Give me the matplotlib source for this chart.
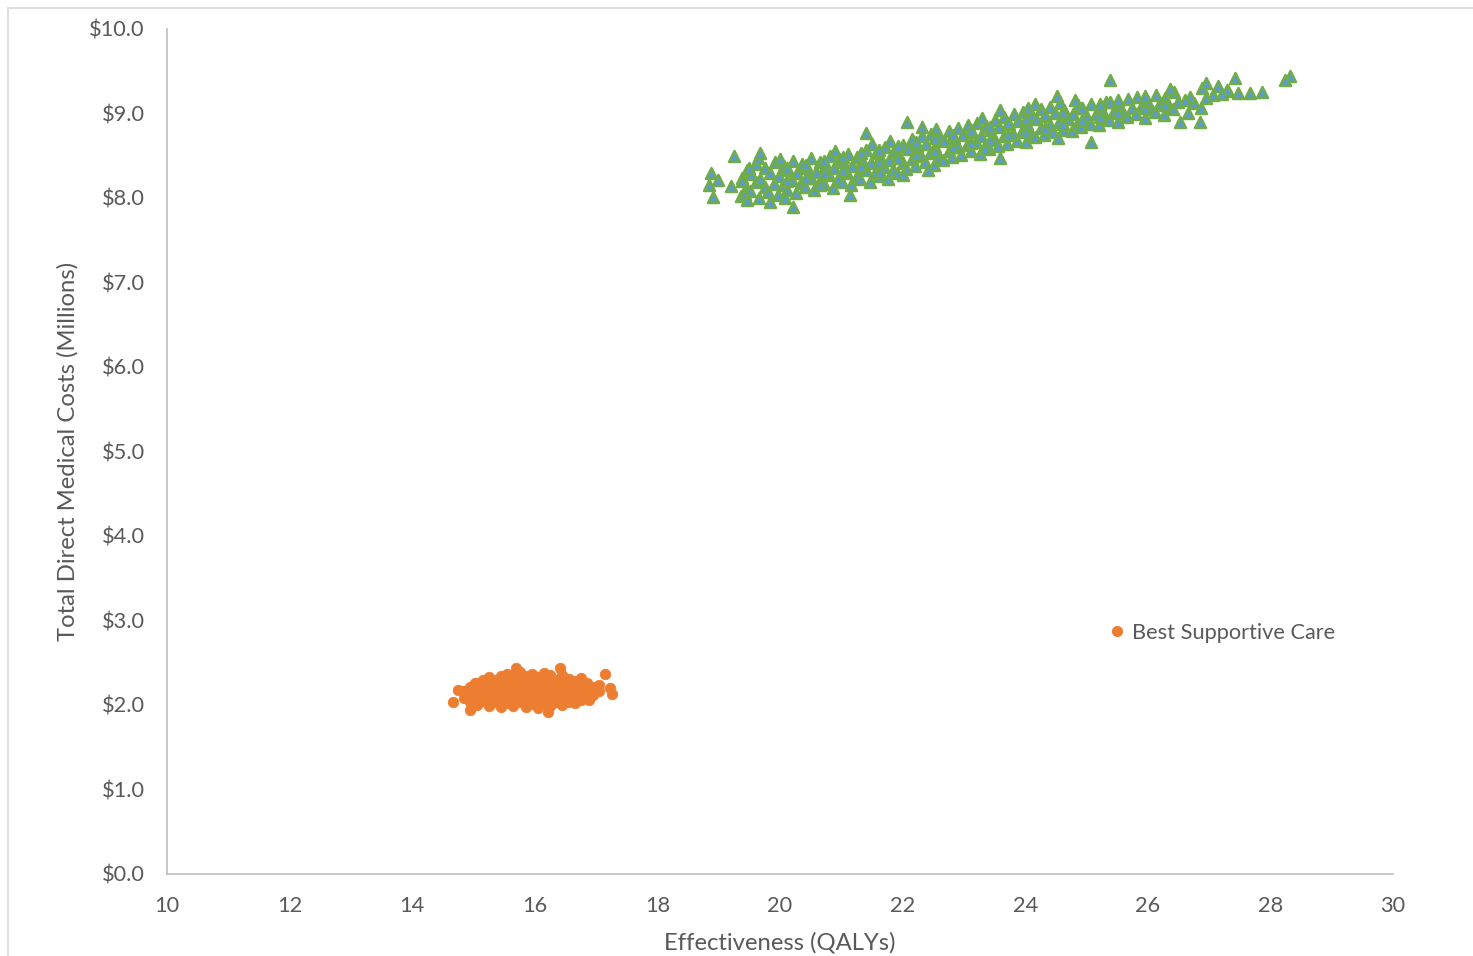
import matplotlib.pyplot as plt
from matplotlib.lines import Line2D
from matplotlib.ticker import FuncFormatter

# Best Supportive Care (orange circles)
bsc_qaly = [
    14.85, 14.85,
    14.95, 14.95, 14.95,
    15.05, 15.05, 15.05, 15.05,
    15.15, 15.15, 15.15, 15.15,
    15.25, 15.25, 15.25, 15.25, 15.25,
    15.35, 15.35, 15.35, 15.35,
    15.45, 15.45, 15.45, 15.45, 15.45,
    15.55, 15.55, 15.55, 15.55, 15.55,
    15.65, 15.65, 15.65, 15.65, 15.65,
    15.75, 15.75, 15.75, 15.75, 15.75,
    15.85, 15.85, 15.85, 15.85, 15.85,
    15.95, 15.95, 15.95, 15.95, 15.95,
    16.05, 16.05, 16.05, 16.05, 16.05,
    16.15, 16.15, 16.15, 16.15, 16.15,
    16.25, 16.25, 16.25, 16.25, 16.25,
    16.35, 16.35, 16.35, 16.35,
    16.45, 16.45, 16.45, 16.45, 16.45,
    16.55, 16.55, 16.55, 16.55,
    16.65, 16.65, 16.65, 16.65,
    16.75, 16.75, 16.75, 16.75,
    16.85, 16.85, 16.85,
    16.95, 16.95,
    17.05, 17.05,
    14.67, 14.75, 14.94, 15.69, 16.41, 17.15, 17.26, 17.23, 16.22, 16.88, 15.02,
]
bsc_cost = [
    2.08, 2.16,
    2.03, 2.12, 2.21,
    2.00, 2.09, 2.18, 2.26,
    2.05, 2.14, 2.23, 2.29,
    1.99, 2.08, 2.17, 2.26, 2.33,
    2.03, 2.12, 2.21, 2.30,
    1.98, 2.07, 2.16, 2.25, 2.34,
    2.02, 2.11, 2.20, 2.29, 2.37,
    1.99, 2.08, 2.17, 2.26, 2.35,
    2.03, 2.12, 2.21, 2.30, 2.39,
    1.98, 2.07, 2.16, 2.25, 2.34,
    2.01, 2.10, 2.19, 2.28, 2.37,
    1.97, 2.06, 2.15, 2.24, 2.33,
    2.02, 2.11, 2.20, 2.29, 2.38,
    1.99, 2.08, 2.17, 2.26, 2.35,
    2.03, 2.12, 2.21, 2.30,
    2.00, 2.09, 2.18, 2.27, 2.36,
    2.04, 2.13, 2.22, 2.31,
    2.02, 2.10, 2.19, 2.28,
    2.06, 2.15, 2.24, 2.32,
    2.09, 2.18, 2.26,
    2.12, 2.21,
    2.16, 2.24,
    2.04, 2.18, 1.94, 2.44, 2.44, 2.37, 2.13, 2.20, 1.92, 2.06, 2.26,
]

# second strategy (green triangles)
tx_qaly = [
    19.36, 19.45, 19.38, 19.46,
    19.51, 19.60, 19.53, 19.61,
    19.66, 19.75, 19.68, 19.76,
    19.81, 19.90, 19.83, 19.91,
    19.96, 20.05, 19.98, 20.06, 20.00,
    20.11, 20.20, 20.13, 20.21,
    20.26, 20.35, 20.28, 20.36,
    20.41, 20.50, 20.43, 20.51,
    20.56, 20.65, 20.58, 20.66,
    20.71, 20.80, 20.73, 20.81,
    20.86, 20.95, 20.88, 20.96, 20.90,
    21.01, 21.10, 21.03, 21.11,
    21.16, 21.25, 21.18, 21.26,
    21.31, 21.40, 21.33, 21.41,
    21.46, 21.55, 21.48, 21.56, 21.50,
    21.61, 21.70, 21.63, 21.71,
    21.76, 21.85, 21.78, 21.86, 21.80,
    21.91, 22.00, 21.93, 22.01,
    22.06, 22.15, 22.08, 22.16,
    22.21, 22.30, 22.23, 22.31,
    22.36, 22.45, 22.38, 22.46,
    22.51, 22.60, 22.53, 22.61, 22.55,
    22.66, 22.75, 22.68, 22.76,
    22.81, 22.90, 22.83, 22.91,
    22.96, 23.05, 22.98, 23.06,
    23.11, 23.20, 23.13, 23.21,
    23.26, 23.35, 23.28, 23.36, 23.30,
    23.41, 23.50, 23.43, 23.51,
    23.56, 23.65, 23.58, 23.66,
    23.71, 23.80, 23.73, 23.81,
    23.86, 23.95, 23.88, 23.96,
    24.01, 24.10, 24.03, 24.11, 24.05,
    24.16, 24.25, 24.18, 24.26,
    24.31, 24.40, 24.33, 24.41,
    24.46, 24.55, 24.48, 24.56,
    24.61, 24.70, 24.63,
    24.76, 24.85, 24.78, 24.86,
    24.91, 25.00, 24.93,
    25.06, 25.15, 25.08,
    25.21, 25.30, 25.23, 25.31,
    25.36, 25.45, 25.38,
    25.51, 25.60, 25.53,
    25.66, 25.75, 25.68,
    25.81, 25.90, 25.83,
    25.96, 26.05, 25.98,
    26.11, 26.20, 26.13,
    26.26, 26.35, 26.28,
    26.41, 26.50, 26.43,
    26.66, 26.75, 26.68,
    26.86, 26.95, 26.88,
    27.06, 27.15,
    27.31,
    20.12, 20.12, 20.42, 20.42, 20.72, 20.72, 21.02, 21.02, 21.32, 21.32,
    21.62, 21.62, 21.92, 21.92, 22.22, 22.22, 22.52, 22.52, 22.82, 22.82,
    23.12, 23.12, 23.42, 23.42, 23.72, 23.72, 24.02, 24.02, 24.32, 24.32,
    24.62, 24.62, 24.92, 24.92, 25.22, 25.22, 25.52, 25.52,
    18.84, 18.87, 18.91, 18.99, 19.20, 19.25, 19.38, 19.43, 19.49, 19.46,
    19.64, 19.67, 19.84, 20.21, 20.08,
    28.32, 28.24, 27.86, 27.67, 27.47, 27.42, 27.29, 27.21, 26.95, 26.85,
    26.61, 26.53, 25.38, 26.36, 25.95, 26.28,
    25.07, 24.54, 23.59, 23.34, 22.41, 22.01, 21.63, 21.14, 20.65,
    22.07, 22.32, 21.40, 24.52, 24.16, 23.59, 24.81, 25.22, 25.95,
]
tx_cost = [
    8.02, 8.12, 8.24, 8.33,
    8.08, 8.19, 8.28, 8.40,
    8.00, 8.13, 8.22, 8.36,
    8.07, 8.17, 8.30, 8.42,
    8.04, 8.15, 8.26, 8.38, 8.46,
    8.10, 8.21, 8.33, 8.44,
    8.06, 8.18, 8.29, 8.40,
    8.13, 8.24, 8.35, 8.47,
    8.09, 8.20, 8.31, 8.43,
    8.16, 8.27, 8.38, 8.50,
    8.12, 8.23, 8.35, 8.46, 8.55,
    8.19, 8.30, 8.42, 8.52,
    8.15, 8.26, 8.38, 8.49,
    8.22, 8.33, 8.45, 8.57,
    8.19, 8.30, 8.41, 8.53, 8.64,
    8.26, 8.37, 8.48, 8.60,
    8.22, 8.33, 8.45, 8.56, 8.68,
    8.30, 8.41, 8.52, 8.63,
    8.34, 8.46, 8.58, 8.70,
    8.38, 8.50, 8.61, 8.73,
    8.42, 8.53, 8.64, 8.76,
    8.39, 8.49, 8.60, 8.71, 8.82,
    8.45, 8.56, 8.68, 8.79,
    8.48, 8.60, 8.71, 8.83,
    8.51, 8.63, 8.74, 8.86,
    8.55, 8.66, 8.78, 8.89,
    8.52, 8.62, 8.73, 8.85, 8.95,
    8.58, 8.69, 8.81, 8.92,
    8.61, 8.73, 8.84, 8.96,
    8.64, 8.76, 8.87, 8.99,
    8.68, 8.79, 8.91, 9.02,
    8.66, 8.76, 8.87, 8.98, 9.07,
    8.72, 8.83, 8.94, 9.05,
    8.75, 8.86, 8.97, 9.08,
    8.78, 8.90, 9.01, 9.12,
    8.81, 8.93, 9.04,
    8.79, 8.88, 8.99, 9.10,
    8.84, 8.96, 9.07,
    8.88, 8.99, 9.11,
    8.86, 8.95, 9.06, 9.14,
    8.92, 9.03, 9.13,
    8.90, 9.00, 9.10,
    8.96, 9.07, 9.17,
    8.99, 9.10, 9.20,
    8.95, 9.05, 9.15,
    9.02, 9.12, 9.22,
    8.98, 9.08, 9.18,
    9.05, 9.14, 9.25,
    9.00, 9.12, 9.20,
    9.06, 9.18, 9.30,
    9.22, 9.33,
    9.26,
    8.20, 8.35, 8.24, 8.39, 8.29, 8.44, 8.33, 8.48, 8.38, 8.53,
    8.42, 8.57, 8.47, 8.62, 8.51, 8.66, 8.56, 8.71, 8.60, 8.75,
    8.65, 8.80, 8.69, 8.84, 8.74, 8.89, 8.78, 8.93, 8.83, 8.98,
    8.87, 9.02, 8.92, 9.07, 8.96, 9.11, 9.01, 9.16,
    8.15, 8.30, 8.01, 8.21, 8.14, 8.50, 8.20, 8.05, 8.35, 7.98,
    8.47, 8.53, 7.95, 7.89, 8.00,
    9.44, 9.40, 9.25, 9.24, 9.24, 9.42, 9.28, 9.23, 9.36, 8.90,
    9.16, 8.90, 9.40, 9.29, 9.07, 9.10,
    8.66, 8.71, 8.47, 8.59, 8.33, 8.27, 8.31, 8.04, 8.15,
    8.90, 8.84, 8.77, 9.21, 9.11, 9.04, 9.16, 9.10, 9.21,
]

x_ticks = [10, 12, 14, 16, 18, 20, 22, 24, 26, 28, 30]
y_ticks = [0, 1, 2, 3, 4, 5, 6, 7, 8, 9, 10]

grey = '#595959'
plt.rcParams['font.family'] = ['Lato', 'DejaVu Sans']

fig = plt.figure(figsize=(14.73, 9.56), dpi=100)
ax = fig.add_axes([0.1134, 0.0858, 0.8323, 0.8839])

ax.scatter(tx_qaly, tx_cost, marker='^', s=62, c='#5B9BD5',
           edgecolors='#70AD47', linewidths=1.8, zorder=3)
ax.scatter(bsc_qaly, bsc_cost, marker='o', s=58, c='#ED7D31',
           edgecolors='#ED7D31', linewidths=0.5, zorder=3)

ax.set_xlim(10, 30)
ax.set_ylim(0, 10)
ax.set_xticks(x_ticks)
ax.set_yticks(y_ticks)
ax.yaxis.set_major_formatter(FuncFormatter(lambda v, p: '${:.1f}'.format(v)))

for s in ['top', 'right']:
    ax.spines[s].set_visible(False)
for s in ['left', 'bottom']:
    ax.spines[s].set_color('#BFBFBF')
    ax.spines[s].set_linewidth(1.2)
ax.tick_params(length=0, labelsize=15.7, labelcolor=grey)
ax.tick_params(axis='y', pad=16)
ax.tick_params(axis='x', pad=16)

ax.set_xlabel('Effectiveness (QALYs)', fontsize=17.2, color=grey)
ax.set_ylabel('Total Direct Medical Costs (Millions)', fontsize=17.2, color=grey)
ax.xaxis.set_label_coords(0.5, -0.068)
ax.yaxis.set_label_coords(-0.072, 0.5)

handle = Line2D([], [], marker='o', linestyle='none', color='#ED7D31', markersize=7)
leg = fig.legend([handle], ['Best Supportive Care'], loc='center left',
                 bbox_to_anchor=(1084 / 1473, 1 - 633 / 956), frameon=False,
                 fontsize=15.7, handletextpad=0.1, handlelength=1.2)
for t in leg.get_texts():
    t.set_color(grey)

# thin frame of the chart area
fig.add_artist(Line2D([8 / 1473, 8 / 1473], [0, 1 - 8 / 956], color='#D9D9D9', lw=1.2))
fig.add_artist(Line2D([8 / 1473, 1], [1 - 8 / 956, 1 - 8 / 956], color='#D9D9D9', lw=1.2))

fig.savefig('out.png', dpi=100)
